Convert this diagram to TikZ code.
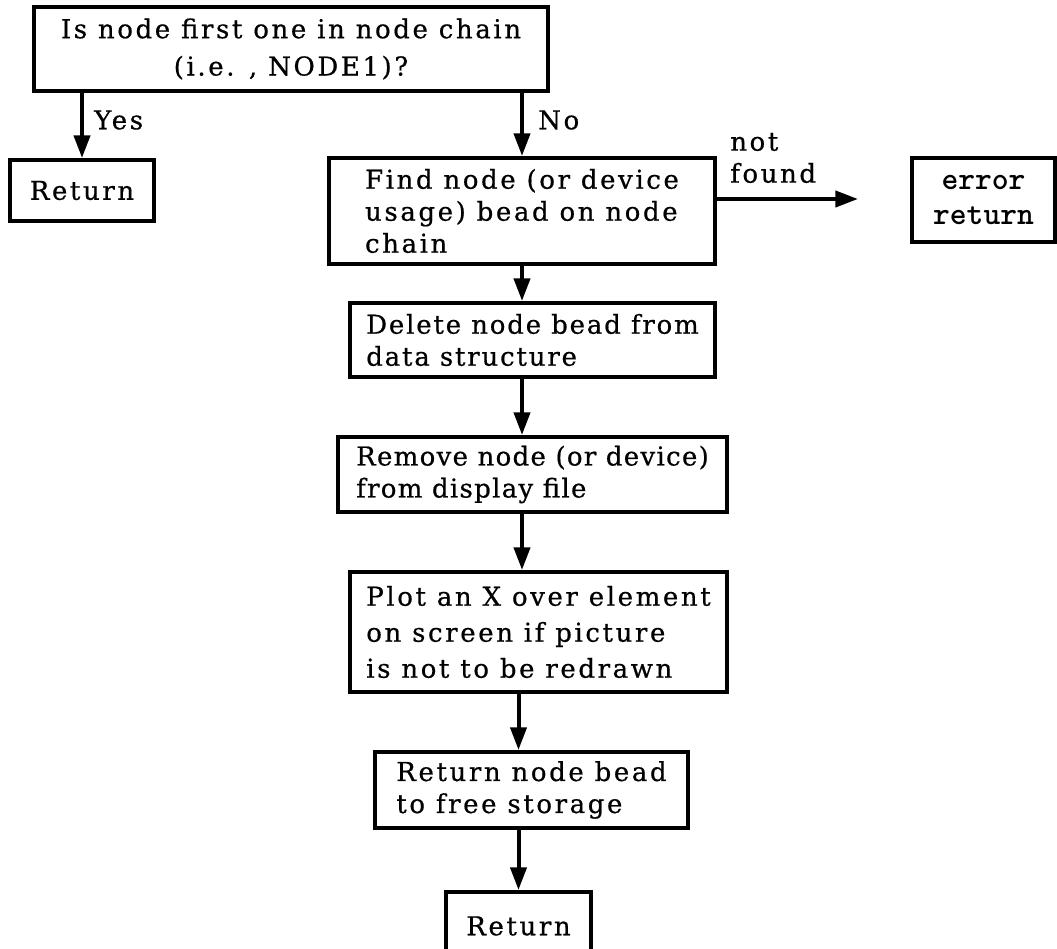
\documentclass[tikz,border=0pt]{standalone}
\usepackage{fontspec}
\setmainfont{DejaVu Serif}[LetterSpace=10, FakeBold=0.6]
\usepackage{tikz}
\usetikzlibrary{arrows.meta}

\tikzset{
  flowbox/.style={draw, line width=3pt, inner sep=0pt, align=left, font=\fontsize{19.5}{24}\selectfont},
  flowarrow/.style={line width=3pt, -{Triangle[length=17pt,width=12pt]}},
  flowlabel/.style={inner sep=0pt, anchor=west, align=left, font=\fontsize{19.5}{24}\selectfont}
}

\begin{document}
\begin{tikzpicture}[x=0.75pt,y=0.75pt,yscale=-1,xscale=1]
\useasboundingbox (0,0) rectangle (1057,949);

%Shape: Rectangle [id:topq]
\node [flowbox, align=center, minimum width=385.5pt, minimum height=63pt, font=\fontsize{19.5}{28}\selectfont] (topq) at (291,49) {Is node first one in node chain\\(i.e. , NODE1)?};
%Shape: Rectangle [id:ret1]
\node [flowbox, minimum width=108pt, minimum height=45.75pt] (ret1) at (82,190.5) {Return};
%Shape: Rectangle [id:find]
\node [flowbox, minimum width=289.5pt, minimum height=79.5pt] (find) at (522,211) {Find node (or device\\usage) bead on node\\chain};
%Shape: Rectangle [id:err]
\node [flowbox, align=center, minimum width=107.25pt, minimum height=63pt, font=\ttfamily\bfseries\fontsize{24}{26}\selectfont] (err) at (983.5,200) {error\\return};
%Shape: Rectangle [id:del]
\node [flowbox, minimum width=273.75pt, minimum height=55.5pt, font=\fontsize{19.5}{24}\selectfont\addfontfeatures{LetterSpace=7}] (del) at (532.5,340) {Delete node bead from\\data structure};
%Shape: Rectangle [id:rem]
\node [flowbox, minimum width=291.75pt, minimum height=56.25pt, font=\fontsize{19.5}{24}\selectfont\addfontfeatures{LetterSpace=5}] (rem) at (532.5,474.5) {Remove node (or device)\\from display file};
%Shape: Rectangle [id:plot]
\node [flowbox, minimum width=282.75pt, minimum height=90pt, font=\fontsize{19.5}{27}\selectfont] (plot) at (538.5,632) {Plot an X over element\\on screen if picture\\is not to be redrawn};
%Shape: Rectangle [id:stor]
\node [flowbox, minimum width=234.75pt, minimum height=57pt] (stor) at (531.5,790) {Return node bead\\to free storage};
%Shape: Rectangle [id:ret2]
\node [flowbox, minimum width=108.75pt, minimum height=51pt] (ret2) at (518.5,926) {Return};

%Straight Lines
\coordinate (errtip) at (858,199);
\draw [flowarrow] (topq.south -| ret1.north) -- (ret1.north);
\draw [flowarrow] (topq.south -| find.north) -- (find.north);
\draw [flowarrow] (errtip -| find.east) -- (errtip);
\draw [flowarrow] (find.south) -- (find.south |- del.north);
\draw [flowarrow] (del.south -| find.south) -- (rem.north -| find.south);
\draw [flowarrow] (rem.south -| find.south) -- (plot.north -| find.south);
\draw [flowarrow] (plot.south -| ret2.north) -- (stor.north -| ret2.north);
\draw [flowarrow] (stor.south -| ret2.north) -- (ret2.north);

% Text Node
\node [flowlabel] (yes) at (94,120) {Yes};
% Text Node
\node [flowlabel] (no) at (538,120) {No};
% Text Node
\node [flowlabel] (notfound) at (730,158) {not\\found};

\end{tikzpicture}
\end{document}
